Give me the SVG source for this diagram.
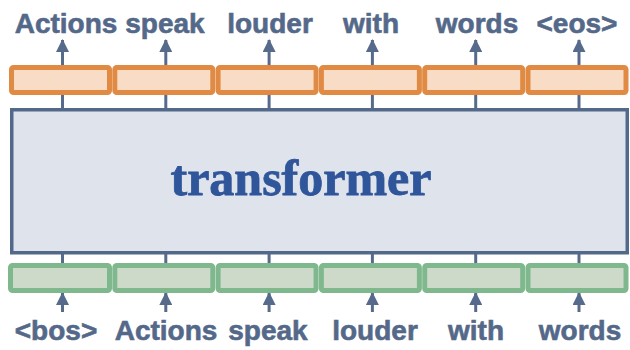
<svg xmlns="http://www.w3.org/2000/svg" width="630" height="350" viewBox="0 0 630 350">
  <style>
    .word { font-family: "Liberation Sans", Arial, sans-serif; font-weight: bold; font-size: 28px; fill: #546989; stroke: #546989; stroke-width: 0.6; text-anchor: middle; }
    .title { font-family: "Liberation Serif", "Times New Roman", serif; font-weight: bold; font-size: 50px; fill: #2F559B; stroke: #2F559B; stroke-width: 0.8; text-anchor: middle; }
    .out { fill: #F9DCC6; stroke: #E08A44; stroke-width: 5; }
    .in { fill: #CDD9C9; stroke: #80B88E; stroke-width: 5; }
    .body { fill: #DFE3EB; stroke: #53698A; stroke-width: 3.5; }
    .wire { stroke: #566B8C; stroke-width: 3; fill: none; }
  </style>
  <defs>
    <marker id="head" markerUnits="userSpaceOnUse" markerWidth="13" markerHeight="13" viewBox="0 0 13 13" refX="12" refY="6.5" orient="auto">
      <path d="M0,0 L13,6.5 L0,13 z" fill="#566B8C"/>
    </marker>
  </defs>

  <!-- connectors: plain links between layers, arrows into / out of token boxes -->
  <g id="connectors">
    <g class="wire">
      <line x1="62.5" y1="95" x2="62.5" y2="109"/>
      <line x1="165.8" y1="95" x2="165.8" y2="109"/>
      <line x1="269.1" y1="95" x2="269.1" y2="109"/>
      <line x1="372.4" y1="95" x2="372.4" y2="109"/>
      <line x1="475.7" y1="95" x2="475.7" y2="109"/>
      <line x1="579" y1="95" x2="579" y2="109"/>

      <line x1="62.5" y1="253" x2="62.5" y2="264"/>
      <line x1="165.8" y1="253" x2="165.8" y2="264"/>
      <line x1="269.1" y1="253" x2="269.1" y2="264"/>
      <line x1="372.4" y1="253" x2="372.4" y2="264"/>
      <line x1="475.7" y1="253" x2="475.7" y2="264"/>
      <line x1="579" y1="253" x2="579" y2="264"/>

      <line x1="62.5" y1="66" x2="62.5" y2="40" marker-end="url(#head)"/>
      <line x1="165.8" y1="66" x2="165.8" y2="40" marker-end="url(#head)"/>
      <line x1="269.1" y1="66" x2="269.1" y2="40" marker-end="url(#head)"/>
      <line x1="372.4" y1="66" x2="372.4" y2="40" marker-end="url(#head)"/>
      <line x1="475.7" y1="66" x2="475.7" y2="40" marker-end="url(#head)"/>
      <line x1="579" y1="66" x2="579" y2="40" marker-end="url(#head)"/>

      <line x1="62.5" y1="312" x2="62.5" y2="293" marker-end="url(#head)"/>
      <line x1="165.8" y1="312" x2="165.8" y2="293" marker-end="url(#head)"/>
      <line x1="269.1" y1="312" x2="269.1" y2="293" marker-end="url(#head)"/>
      <line x1="372.4" y1="312" x2="372.4" y2="293" marker-end="url(#head)"/>
      <line x1="475.7" y1="312" x2="475.7" y2="293" marker-end="url(#head)"/>
      <line x1="579" y1="312" x2="579" y2="293" marker-end="url(#head)"/>
    </g>
  </g>

  <!-- transformer block -->
  <g id="transformer">
    <rect class="body" x="11.75" y="109.75" width="615.5" height="143"/>
    <text class="title" x="301" y="195">transformer</text>
  </g>

  <!-- output token embeddings -->
  <g id="out-1"><rect class="out" x="11.5" y="67.5" width="98" height="25" rx="2"/></g>
  <g id="out-2"><rect class="out" x="114.8" y="67.5" width="98" height="25" rx="2"/></g>
  <g id="out-3"><rect class="out" x="218.1" y="67.5" width="98" height="25" rx="2"/></g>
  <g id="out-4"><rect class="out" x="321.4" y="67.5" width="98" height="25" rx="2"/></g>
  <g id="out-5"><rect class="out" x="424.7" y="67.5" width="98" height="25" rx="2"/></g>
  <g id="out-6"><rect class="out" x="528" y="67.5" width="98" height="25" rx="2"/></g>

  <!-- input token embeddings -->
  <g id="in-1"><rect class="in" x="10.5" y="265.5" width="99" height="25" rx="2"/></g>
  <g id="in-2"><rect class="in" x="114.8" y="265.5" width="98" height="25" rx="2"/></g>
  <g id="in-3"><rect class="in" x="218.1" y="265.5" width="98" height="25" rx="2"/></g>
  <g id="in-4"><rect class="in" x="321.4" y="265.5" width="98" height="25" rx="2"/></g>
  <g id="in-5"><rect class="in" x="424.7" y="265.5" width="98" height="25" rx="2"/></g>
  <g id="in-6"><rect class="in" x="528" y="265.5" width="98" height="25" rx="2"/></g>

  <!-- predicted tokens -->
  <g id="outputs">
    <text class="word" x="66" y="33">Actions</text>
    <text class="word" x="165" y="33">speak</text>
    <text class="word" x="270" y="33">louder</text>
    <text class="word" x="371" y="33">with</text>
    <text class="word" x="477" y="33">words</text>
    <text class="word" x="577" y="33">&lt;eos&gt;</text>
  </g>

  <!-- input tokens -->
  <g id="inputs">
    <text class="word" x="56" y="340">&lt;bos&gt;</text>
    <text class="word" x="166" y="340">Actions</text>
    <text class="word" x="268" y="340">speak</text>
    <text class="word" x="375" y="340">louder</text>
    <text class="word" x="476" y="340">with</text>
    <text class="word" x="580" y="340">words</text>
  </g>
</svg>
